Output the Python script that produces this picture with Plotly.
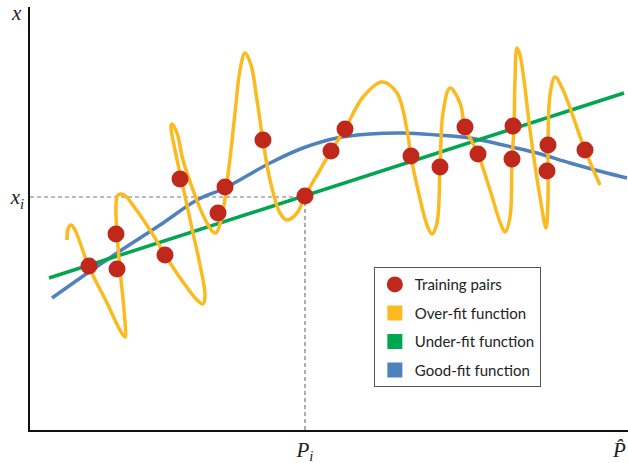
import plotly.graph_objects as go

# Values (arbitrary units: horizontal P-hat, vertical x)
train_p = [59, 86, 87, 135, 150, 188, 195, 233, 275, 301, 315, 381, 410, 435, 448, 483, 482, 518, 517, 555]
train_x = [164, 196, 161, 175, 251, 217, 243, 290, 234, 279, 301, 274, 263, 303, 276, 304, 271, 285, 259, 280]

under_p = [19, 594]
under_x = [152, 337]

good_p = [22, 59, 87, 130, 167, 195, 240, 273, 307, 340, 373, 407, 440, 473, 507, 540, 573, 597]
good_x = [132, 158, 177, 205, 230, 242, 267, 282, 292, 296, 297, 295, 292, 285, 277, 267, 258, 252]

over_p = [37, 38, 41, 45, 59, 77, 90, 95, 94, 90, 87, 86, 88, 94, 105, 120, 135, 153, 167, 173,
          175, 170, 163, 153, 145, 141, 142, 147, 153, 163, 173, 182, 186, 190, 194, 197, 201, 205,
          210, 215, 221, 227, 233, 240, 250, 257, 267, 275, 290, 301, 315, 333, 352, 367, 377, 381,
          388, 397, 402, 407, 410, 413, 420, 430, 435, 448, 460, 470, 475, 480, 482, 484, 485, 487,
          490, 494, 500, 510, 516, 518, 518, 520, 525, 533, 555, 570]
over_x = [190, 201, 205, 200, 163, 127, 100, 93, 120, 160, 197, 225, 235, 235, 222, 200, 175, 148, 130, 126,
          135, 165, 197, 243, 280, 303, 306, 297, 270, 240, 215, 199, 197, 206, 225, 247, 280, 317,
          360, 377, 365, 330, 289, 250, 217, 210, 217, 234, 260, 279, 301, 333, 348, 337, 300, 273,
          240, 205, 196, 207, 263, 317, 342, 327, 303, 276, 240, 208, 198, 213, 270, 303, 350, 382,
          375, 350, 300, 233, 202, 230, 285, 335, 353, 340, 280, 245]

guide_p = [0, 275, 275]
guide_x = [233, 233, 0]

tick_p = [275]
tick_p_text = ["<i>P<sub>i</sub></i>"]
tick_x = [233]
tick_x_text = ["<i>x<sub>i</sub></i>"]

RED = "#C0281C"
ORANGE = "#FBBA1F"
GREEN = "#00A650"
BLUE = "#4F81BD"

fig = go.Figure()
fig.add_trace(go.Scatter(x=guide_p, y=guide_x, mode="lines",
                         line=dict(color="#777777", width=1.2, dash="4px,3px"),
                         showlegend=False, hoverinfo="skip"))
fig.add_trace(go.Scatter(x=good_p, y=good_x, mode="lines", line=dict(color=BLUE, width=3.5, shape="spline"),
                         showlegend=False))
fig.add_trace(go.Scatter(x=under_p, y=under_x, mode="lines", line=dict(color=GREEN, width=3.5),
                         showlegend=False))
fig.add_trace(go.Scatter(x=over_p, y=over_x, mode="lines",
                         line=dict(color=ORANGE, width=3.5, shape="spline", smoothing=1.0),
                         showlegend=False))
fig.add_trace(go.Scatter(x=train_p, y=train_x, mode="markers",
                         marker=dict(color=RED, size=17, line=dict(width=0)),
                         name="Training pairs", legendgroup="a"))
# legend-only entries
for nm, col, g in [("Over-fit function", ORANGE, "b"), ("Under-fit function", GREEN, "c"),
                   ("Good-fit function", BLUE, "d")]:
    fig.add_trace(go.Scatter(x=[None], y=[None], mode="markers", name=nm, legendgroup=g,
                             marker=dict(color=col, size=15, symbol="square", line=dict(width=0))))

serif = "Liberation Serif"
fig.update_layout(
    width=628, height=463,
    margin=dict(l=30, r=0, t=7, b=33),
    plot_bgcolor="white", paper_bgcolor="white",
    xaxis=dict(range=[0, 598], showgrid=False, zeroline=False, showline=True, linecolor="#111111",
               linewidth=1.5, tickmode="array", tickvals=tick_p, ticktext=tick_p_text, ticks="",
               automargin=False, ticklabelstandoff=0,
               tickfont=dict(family=serif, size=21, color="#222222"), fixedrange=True),
    yaxis=dict(range=[0, 423], showgrid=False, zeroline=False, showline=True, linecolor="#111111",
               linewidth=1.5, tickmode="array", tickvals=tick_x, ticktext=tick_x_text, ticks="",
               automargin=False,
               tickfont=dict(family=serif, size=21, color="#222222"), fixedrange=True),
    legend=dict(x=0.575, y=0.385, xanchor="left", yanchor="top", bgcolor="white",
                bordercolor="#555555", borderwidth=1, tracegroupgap=6,
                font=dict(family="Lato", size=15, color="#222222")),
    annotations=[
        dict(text="<i>x</i>", xref="paper", yref="paper", x=-0.01, y=0.985, xanchor="right", yanchor="middle",
             showarrow=False, font=dict(family=serif, size=21, color="#222222")),
        dict(text="<i>P\u0302</i>", xref="paper", yref="paper", x=1.0, y=-0.015, xanchor="right", yanchor="top",
             showarrow=False, font=dict(family=serif, size=21, color="#222222")),
    ],
)
fig.write_html("out.html", config={"displayModeBar": False},
               post_script="document.body.style.margin='0';")
